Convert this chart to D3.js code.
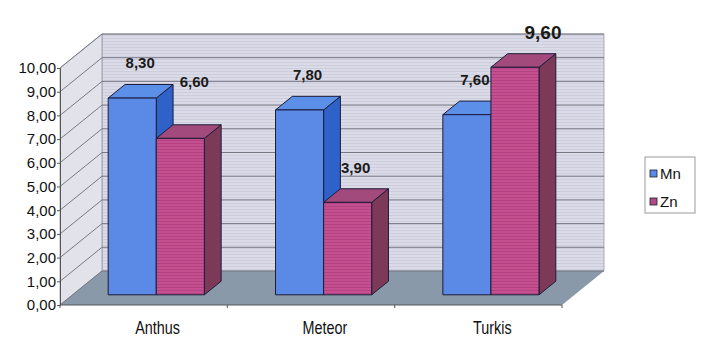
<!DOCTYPE html>
<html>
<head>
<meta charset="utf-8">
<script src="https://cdn.jsdelivr.net/npm/d3@7"></script>
<style>
  body { margin: 0; background: #fff; }
  svg text { font-family: "Liberation Sans", Arial, sans-serif; }
</style>
</head>
<body>
<svg id="chart" width="711" height="338"></svg>
<script>
// chart data
var categories = ["Anthus", "Meteor", "Turkis"];
var seriesNames = ["Mn", "Zn"];
var mnValues = [8.30, 7.80, 7.60];
var znValues = [6.60, 3.90, 9.60];
var yTicks = [0, 1, 2, 3, 4, 5, 6, 7, 8, 9, 10];

var svg = d3.select("#chart");

// front plane of the 3d box + depth vector
var plot = {left: 60, right: 562, top: 68, bottom: 305},
	depth = {dx: 42, dy: -34},
	barFront = 0.3, barBack = 0.7;

var y = d3.scaleLinear().domain([0, 10]).range([plot.bottom, plot.top]);
var x = d3.scaleBand().domain(categories).range([plot.left, plot.right]);
var xs = d3.scaleBand().domain(seriesNames).range([0, x.bandwidth()])
	.paddingInner(0).paddingOuter(0.74);

var colors = {
	Mn: {front: "#5a8ae6", top: "#5b8fe8", side: "#2f62c8"},
	Zn: {front: "url(#znStripes)", top: "#a34a7c", side: "#7c3a58"}
};

var defs = svg.append("defs");
var wallPat = defs.append("pattern").attr("id", "wallStripes")
	.attr("patternUnits", "userSpaceOnUse").attr("width", 8).attr("height", 3);
wallPat.append("rect").attr("width", 8).attr("height", 3).attr("fill", "#dadbe7");
wallPat.append("rect").attr("y", 2).attr("width", 8).attr("height", 1).attr("fill", "#cdcedd");

var znPat = defs.append("pattern").attr("id", "znStripes")
	.attr("patternUnits", "userSpaceOnUse").attr("width", 8).attr("height", 3);
znPat.append("rect").attr("width", 8).attr("height", 3).attr("fill", "#c4508f");
znPat.append("rect").attr("y", 2).attr("width", 8).attr("height", 1).attr("fill", "#b24282");

function pt(px, py, f) { return [px + depth.dx * f, py + depth.dy * f]; }
function poly(points) { return points.map(function(p) { return p.join(","); }).join(" "); }

// walls and floor
svg.append("polygon")
	.attr("points", poly([pt(plot.left, y(0), 1), pt(plot.right, y(0), 1), pt(plot.right, y(10), 1), pt(plot.left, y(10), 1)]))
	.attr("fill", "url(#wallStripes)").attr("stroke", "#9a9aa6").attr("stroke-width", 0.8);
svg.append("polygon")
	.attr("points", poly([[plot.left, y(0)], [plot.left, y(10)], pt(plot.left, y(10), 1), pt(plot.left, y(0), 1)]))
	.attr("fill", "#e2e2ea").attr("stroke", "#9a9aa6").attr("stroke-width", 0.8);
svg.append("polygon")
	.attr("points", poly([[plot.left, y(0)], [plot.right, y(0)], pt(plot.right, y(0), 1), pt(plot.left, y(0), 1)]))
	.attr("fill", "#8a99aa");

// gridlines on side wall and back wall
var grid = svg.append("g").attr("stroke", "#6e6e78").attr("stroke-width", 0.9).attr("fill", "none");
yTicks.forEach(function(v) {
	grid.append("polyline")
		.attr("points", poly([[plot.left, y(v)], pt(plot.left, y(v), 1), pt(plot.right, y(v), 1)]));
});

// y axis
var yAxis = svg.append("g")
	.attr("transform", "translate(" + plot.left + ",0)")
	.call(d3.axisLeft(y).tickValues(yTicks).tickSize(3)
		.tickFormat(function(d) { return d3.format(".2f")(d).replace(".", ","); }));
yAxis.select(".domain").attr("stroke", "#555");
yAxis.selectAll(".tick line").attr("stroke", "#555");
yAxis.selectAll("text").attr("font-size", 15).attr("fill", "#111").attr("x", -4);

// x axis (front edge of floor)
var xAxis = svg.append("g")
	.attr("transform", "translate(0," + plot.bottom + ")");
xAxis.append("line").attr("x1", plot.left).attr("x2", plot.right).attr("stroke", "#555");
xAxis.selectAll(".xt").data(categories.concat([null])).enter().append("line")
	.attr("x1", function(d) { return d ? x(d) : plot.right; })
	.attr("x2", function(d) { return d ? x(d) : plot.right; })
	.attr("y1", 0).attr("y2", 3).attr("stroke", "#555");
// category labels are squeezed horizontally in the original
xAxis.selectAll(".xl").data(categories).enter().append("text")
	.attr("transform", function(d) {
		return "translate(" + (x(d) + x.bandwidth() / 2 + 14) + ",29) scale(0.8,1)";
	})
	.attr("text-anchor", "middle")
	.attr("font-size", 18)
	.attr("fill", "#111")
	.text(function(d) { return d; });

// bars
var bars = [];
categories.forEach(function(c, i) {
	bars.push({cat: c, key: "Mn", value: mnValues[i]});
	bars.push({cat: c, key: "Zn", value: znValues[i]});
});

var g = svg.selectAll(".bar3d").data(bars).enter().append("g").attr("class", "bar3d")
	.attr("stroke", "#1c1c3a").attr("stroke-width", 1).attr("stroke-linejoin", "round");

g.each(function(d) {
	var el = d3.select(this),
		x0 = x(d.cat) + xs(d.key), x1 = x0 + xs.bandwidth(),
		b = y(0), t = y(d.value);
	var fbl = pt(x0, b, barFront), fbr = pt(x1, b, barFront),
		ftl = pt(x0, t, barFront), ftr = pt(x1, t, barFront),
		bbr = pt(x1, b, barBack), btl = pt(x0, t, barBack), btr = pt(x1, t, barBack);
	el.append("polygon").attr("points", poly([fbr, ftr, btr, bbr])).attr("fill", colors[d.key].side);
	el.append("polygon").attr("points", poly([ftl, ftr, btr, btl])).attr("fill", colors[d.key].top);
	el.append("polygon").attr("points", poly([fbl, fbr, ftr, ftl])).attr("fill", colors[d.key].front);
});

// value labels (a couple were nudged in the original to avoid the bars)
svg.selectAll(".val").data(bars).enter().append("text")
	.attr("class", "val")
	.attr("x", function(d) {
		var cx = x(d.cat) + xs(d.key) + xs.bandwidth() / 2 + depth.dx * barFront;
		if (d.cat === "Turkis" && d.key === "Zn") return cx + 28;
		if (d.cat === "Anthus" && d.key === "Zn") return cx + 14;
		return cx + 8;
	})
	.attr("y", function(d) {
		var ty = y(d.value) + depth.dy * barFront - 35;
		if (d.cat === "Anthus" && d.key === "Zn") ty -= 22;
		return ty;
	})
	.attr("dy", "0.35em")
	.attr("text-anchor", "middle")
	.attr("font-weight", "bold")
	.attr("font-size", function(d) { return d.cat === "Turkis" && d.key === "Zn" ? 19 : 15; })
	.attr("fill", "#1a1a1a")
	.text(function(d) { return d3.format(".2f")(d.value).replace(".", ","); });

// legend
var legend = svg.append("g").attr("transform", "translate(645,157)");
legend.append("rect").attr("width", 50).attr("height", 56)
	.attr("fill", "#fff").attr("stroke", "#9a9a9a");
seriesNames.forEach(function(s, i) {
	var row = legend.append("g").attr("transform", "translate(5," + (13 + i * 28) + ")");
	row.append("rect").attr("width", 7).attr("height", 7)
		.attr("fill", s === "Mn" ? "#5a8ae6" : "#b04a88").attr("stroke", "#222").attr("stroke-width", 0.8);
	row.append("text").attr("x", 10).attr("y", 4).attr("dy", "0.35em")
		.attr("font-size", 15).attr("fill", "#111").text(s);
});
</script>
</body>
</html>
